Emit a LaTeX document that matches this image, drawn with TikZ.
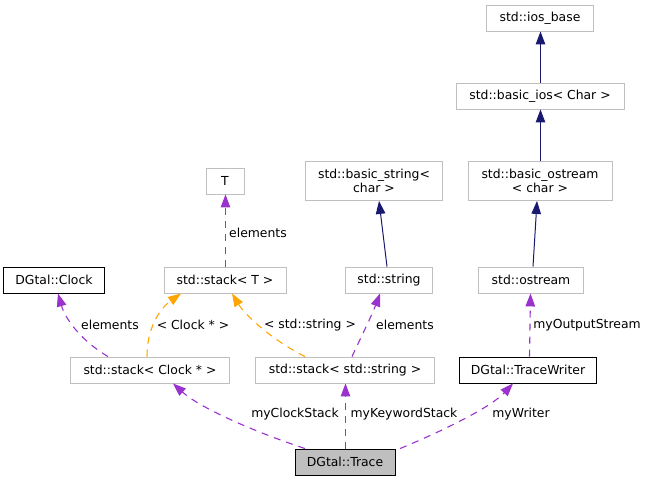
\documentclass[tikz,border=0pt]{standalone}
\usepackage{fontspec}
\setmainfont{DejaVu Sans}
\usetikzlibrary{arrows.meta}
\definecolor{navyedge}{HTML}{191970}
\definecolor{purpedge}{HTML}{9A32CD}
\definecolor{orangeedge}{HTML}{FFA500}
\definecolor{boxgray}{HTML}{BFBFBF}
\tikzset{
  box/.style={draw=boxgray, line width=0.9pt, inner sep=0pt, minimum height=26pt, align=center,
    font=\fontsize{12.4}{14.5}\selectfont},
  blackbox/.style={box, draw=black},
  inherit/.style={color=navyedge, line width=1pt, -{Triangle[length=13pt,width=9.5pt]}},
  usage/.style={color=purpedge, line width=1.1pt, dash pattern=on 7pt off 6pt, -{Triangle[length=13pt,width=9.5pt]}},
  templ/.style={color=orangeedge, line width=1.1pt, dash pattern=on 7pt off 6pt, -{Triangle[length=13pt,width=9.5pt]}},
  lbl/.style={inner sep=0pt, font=\fontsize{12.4}{14.5}\selectfont}
}
\begin{document}
\begin{tikzpicture}[x=1pt,y=-1pt]
\useasboundingbox (0,0) rectangle (652,480);
% nodes
\node[box, minimum width=107pt] (ios) at (540,18) {std::ios\_base};
\node[box, minimum width=168pt] (bios) at (540,96) {std::basic\_ios< Char >};
\node[box, minimum width=144pt, minimum height=39pt] (bostr) at (540,181) {std::basic\_ostream\\< char >};
\node[box, minimum width=137pt, minimum height=39pt] (bstr) at (374,181) {std::basic\_string<\\char >};
\node[box, minimum width=38pt] (T) at (225,181) {T};
\node[box, minimum width=122pt] (stT) at (225,280) {std::stack< T >};
\node[box, minimum width=87pt] (str) at (389,280) {std::string};
\node[box, minimum width=105pt] (ostr) at (531,280) {std::ostream};
\node[blackbox, minimum width=101pt] (clock) at (54,280) {DGtal::Clock};
\node[box, minimum width=159pt] (scl) at (150,370) {std::stack< Clock * >};
\node[box, minimum width=179pt] (sstr) at (345,370) {std::stack< std::string >};
\node[blackbox, minimum width=137pt] (tw) at (528,370) {DGtal::TraceWriter};
\node[box, draw=black, fill=boxgray, minimum width=100pt] (tr) at (345,462) {DGtal::Trace};
% inheritance edges
\draw[inherit] ([xshift=0.5pt]bios.north) -- ([xshift=0.5pt]ios.south);
\draw[inherit] ([xshift=0.5pt]bostr.north) -- ([xshift=0.5pt]bios.south);
\draw[inherit] ([xshift=2pt]ostr.north) -- ([xshift=-3pt]bostr.south);
\draw[inherit] ([xshift=-2pt]str.north) -- ([xshift=5pt]bstr.south);
% usage edges
\draw[usage] ([xshift=0.5pt]stT.north) -- ([xshift=0.5pt]T.south);
\node[lbl] (l1) at (258,233) {elements};
\draw[usage] ([xshift=-42pt]scl.north) .. controls (80,340) and (65,318) .. ([xshift=4pt]clock.south);
\node[lbl] (l2) at (110,325) {elements};
\draw[templ] ([xshift=-3pt]scl.north) .. controls (147,330) and (158,310) .. ([xshift=-44pt]stT.south);
\node[lbl] (l3) at (193,325) {< Clock * >};
\draw[templ] ([xshift=-40pt]sstr.north) .. controls (272,340) and (245,315) .. ([xshift=7pt]stT.south);
\node[lbl] (l4) at (310,325) {< std::string >};
\draw[usage] ([xshift=7pt]sstr.north) .. controls (362,335) and (372,315) .. ([xshift=-9pt]str.south);
\node[lbl] (l5) at (405,325) {elements};
\draw[usage] ([xshift=1.5pt]tw.north) -- ([xshift=-0.5pt]ostr.south);
\node[lbl] (l6) at (587,325) {myOutputStream};
\draw[usage] ([xshift=-40pt]tr.north) .. controls (255,432) and (200,408) .. ([xshift=23pt]scl.south);
\node[lbl] (l7) at (295,414) {myClockStack};
\draw[usage] ([xshift=0.5pt]tr.north) -- ([xshift=0.5pt]sstr.south);
\node[lbl] (l8) at (404,414) {myKeywordStack};
\draw[usage] ([xshift=55pt]tr.north) .. controls (440,432) and (490,408) .. ([xshift=-15pt]tw.south);
\node[lbl] (l9) at (521,414) {myWriter};
\end{tikzpicture}
\end{document}
